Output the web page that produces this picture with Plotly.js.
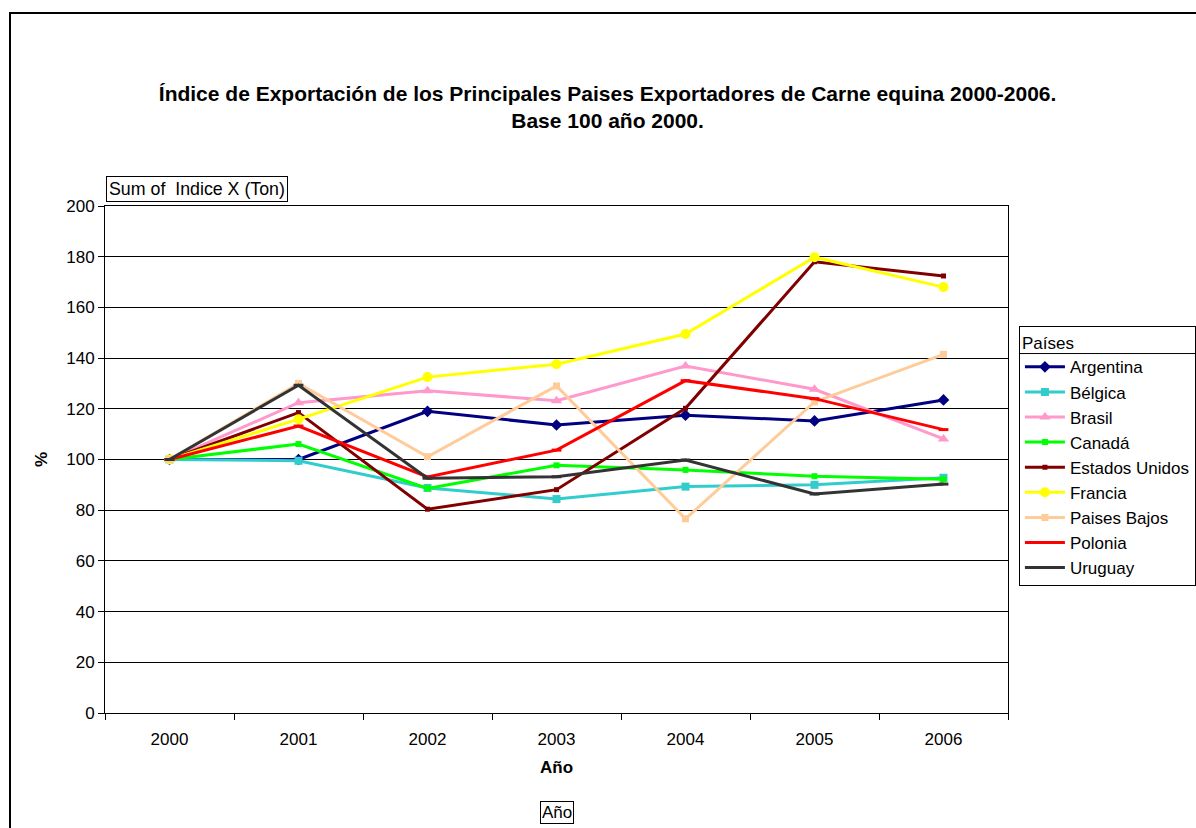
<!DOCTYPE html>
<html>
<head>
<meta charset="utf-8">
<script src="https://cdn.plot.ly/plotly-3.0.1.min.js"></script>
<style>html,body{margin:0;padding:0;background:#fff;}#chart{width:1196px;height:828px;}</style>
</head>
<body>
<div id="chart"></div>
<script>
const years = ["2000", "2001", "2002", "2003", "2004", "2005", "2006"];
const argentina = [100, 100, 119, 113.6, 117.5, 115.2, 123.5];
const belgica = [100, 99.5, 88.8, 84.4, 89.3, 90.0, 92.8];
const brasil = [100, 122.4, 127.1, 123.2, 136.9, 127.7, 108.1];
const canada = [100, 106.1, 88.6, 97.7, 95.9, 93.4, 92.2];
const estadosUnidos = [100, 118.5, 80.4, 88.1, 120.2, 178.0, 172.4];
const francia = [100, 115.9, 132.5, 137.6, 149.5, 179.8, 168.0];
const paisesBajos = [100, 130.0, 101.1, 129.0, 76.6, 122.7, 141.5];
const polonia = [100, 113.2, 93.1, 103.7, 131.1, 124.0, 111.8];
const uruguay = [100, 129.3, 92.6, 93.2, 99.8, 86.4, 90.3];

const series = [
  {name: "Argentina", y: argentina, color: "#000080", symbol: "diamond", size: 9},
  {name: "Bélgica", y: belgica, color: "#33CCCC", symbol: "square", size: 8},
  {name: "Brasil", y: brasil, color: "#FF99CC", symbol: "triangle-up", size: 10},
  {name: "Canadá", y: canada, color: "#00FF00", symbol: "square", size: 6},
  {name: "Estados Unidos", y: estadosUnidos, color: "#800000", symbol: "square", size: 5},
  {name: "Francia", y: francia, color: "#FFFF00", symbol: "circle", size: 10},
  {name: "Paises Bajos", y: paisesBajos, color: "#FFCC99", symbol: "square", size: 7},
  {name: "Polonia", y: polonia, color: "#FF0000", symbol: "line-ew", size: 7},
  {name: "Uruguay", y: uruguay, color: "#333333", symbol: "line-ew", size: 7}
];

const traces = series.map(s => ({
  type: "scatter", mode: "lines+markers", name: s.name, x: years, y: s.y,
  line: {color: s.color, width: 3},
  marker: {symbol: s.symbol, size: s.size, color: s.color, line: {color: s.color, width: s.symbol === "line-ew" ? 3 : 0}}
}));

const F = "Liberation Sans, Arial, sans-serif";
const layout = {
  width: 1196, height: 828,
  margin: {l: 105, r: 188, t: 206, b: 115, autoexpand: false},
  paper_bgcolor: "#fff", plot_bgcolor: "#fff",
  font: {family: F, size: 17, color: "#000"},
  title: {text: "<b>Índice de Exportación de los Principales Paises Exportadores de Carne equina 2000-2006.<br>Base 100 año 2000.</b>",
          x: 0.508, xref: "container", xanchor: "center", y: 0.878, yref: "container", yanchor: "middle",
          font: {family: F, size: 21, color: "#000"}},
  xaxis: {type: "category", range: [-0.5, 6.5], showgrid: false, ticks: "outside", tickson: "boundaries", ticklen: 6,
          tickcolor: "#000", showline: true, linecolor: "#000", linewidth: 1, mirror: true, zeroline: false,
          tickfont: {size: 17}, ticklabelstandoff: 11, automargin: false,
          title: {text: "<b>Año</b>", font: {size: 17}, standoff: 12}},
  yaxis: {range: [0, 200], dtick: 20, showgrid: true, gridcolor: "#000", gridwidth: 1, ticks: "outside", ticklen: 6,
          tickcolor: "#000", showline: true, linecolor: "#000", linewidth: 1, mirror: true, zeroline: false,
          tickfont: {size: 17}, automargin: false, title: {text: "<b>%</b>", font: {size: 17}, standoff: 14}},
  legend: {x: 1.0121, xanchor: "left", y: 0.763, yanchor: "top", bgcolor: "rgba(0,0,0,0)", bordercolor: "#000", borderwidth: 1,
           font: {size: 17}, title: {text: "Países", font: {size: 17}}, itemwidth: 40},
  showlegend: true,
  shapes: [
    {type: "rect", xref: "paper", yref: "paper", x0: -0.1052, x1: 1.3, y0: -0.3, y1: 1.3807, line: {color: "#000", width: 2}, fillcolor: "rgba(0,0,0,0)", layer: "below"},
    {type: "line", xref: "paper", yref: "paper", x0: 1.0121, x1: 1.22, y0: 0.709, y1: 0.709, line: {color: "#000", width: 1}, layer: "above"}
  ],
  annotations: [
    {text: "Sum of  Indice X (Ton)", xref: "paper", yref: "paper", x: 0.001, y: 1.008, xanchor: "left", yanchor: "bottom",
     showarrow: false, bordercolor: "#000", borderwidth: 1, borderpad: 2, font: {size: 17.8}},
    {text: "Año", xref: "paper", yref: "paper", x: 0.5, y: -0.197, xanchor: "center", yanchor: "middle",
     showarrow: false, bordercolor: "#000", borderwidth: 1, borderpad: 1, font: {size: 17}}
  ]
};
Plotly.newPlot("chart", traces, layout, {displayModeBar: false, staticPlot: true});
</script>
</body>
</html>
